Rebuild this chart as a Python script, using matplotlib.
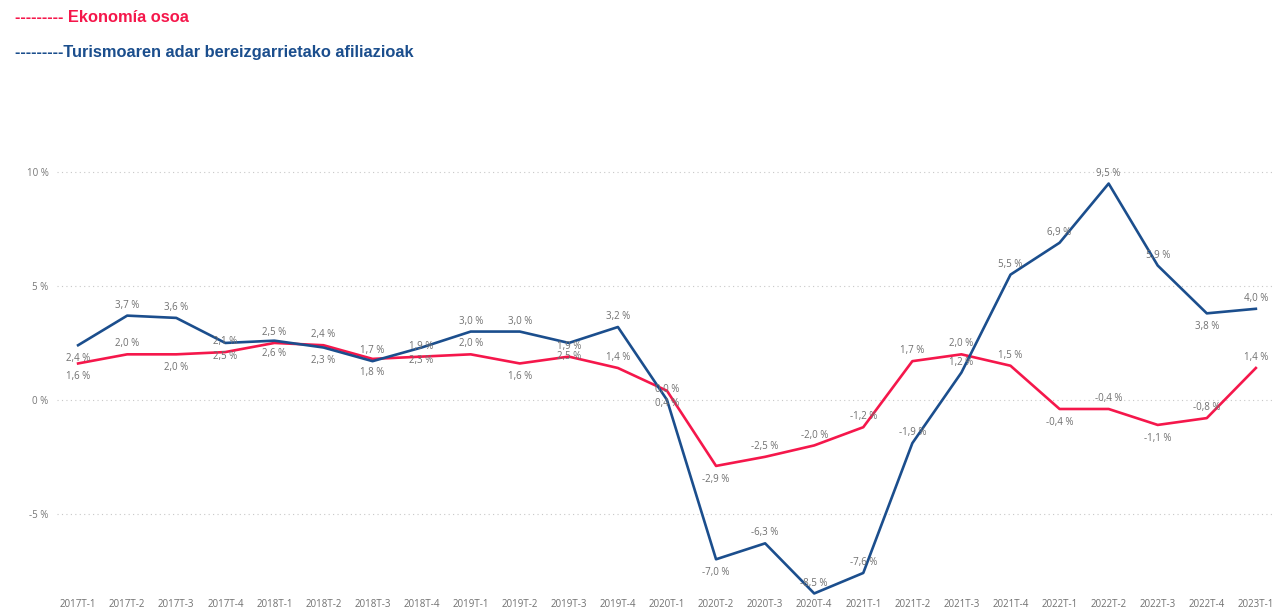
import matplotlib.pyplot as plt
import matplotlib.ticker as ticker

# quarters 2017T-1 .. 2023T-1
quarters = ['2017T-1', '2017T-2', '2017T-3', '2017T-4',
            '2018T-1', '2018T-2', '2018T-3', '2018T-4',
            '2019T-1', '2019T-2', '2019T-3', '2019T-4',
            '2020T-1', '2020T-2', '2020T-3', '2020T-4',
            '2021T-1', '2021T-2', '2021T-3', '2021T-4',
            '2022T-1', '2022T-2', '2022T-3', '2022T-4',
            '2023T-1']

# Ekonomía osoa
economy = [1.6, 2.0, 2.0, 2.1,
           2.5, 2.4, 1.8, 1.9,
           2.0, 1.6, 1.9, 1.4,
           0.4, -2.9, -2.5, -2.0,
           -1.2, 1.7, 2.0, 1.5,
           -0.4, -0.4, -1.1, -0.8,
           1.4]

# Turismoaren adar bereizgarrietako afiliazioak
tourism = [2.4, 3.7, 3.6, 2.5,
           2.6, 2.3, 1.7, 2.3,
           3.0, 3.0, 2.5, 3.2,
           0.0, -7.0, -6.3, -8.5,
           -7.6, -1.9, 1.2, 5.5,
           6.9, 9.5, 5.9, 3.8,
           4.0]

# label placement, 1 = above the point, -1 = below
economy_pos = [-1, 1, -1, 1, 1, 1, -1, 1, 1, -1, 1, 1, -1,
               -1, 1, 1, 1, 1, 1, 1, -1, 1, -1, 1, 1]
tourism_pos = [-1, 1, 1, -1, -1, -1, 1, -1, 1, 1, -1, 1, 1,
               -1, 1, 1, 1, 1, 1, 1, 1, 1, 1, -1, 1]

red = '#F5174B'
blue = '#1B4E8D'
label_color = '#707070'


def pct(v):
    return '{:.1f} %'.format(v).replace('.', ',')


fig = plt.figure(figsize=(12.81, 6.10), dpi=100)
ax = fig.add_axes([57 / 1281, 12 / 610, (1275 - 57) / 1281, (598 - 138) / 610])

x = list(range(len(quarters)))
ax.plot(x, economy, color=red, lw=1.9, zorder=3)
ax.plot(x, tourism, color=blue, lw=1.9, zorder=3)

for vals, pos in ((economy, economy_pos), (tourism, tourism_pos)):
    for i, (v, p) in enumerate(zip(vals, pos)):
        off = 7.5 if p > 0 else -9.5
        ax.annotate(pct(v), (i, v), xytext=(0, off), textcoords='offset points',
                    ha='center', va='center', fontsize=7, color=label_color,
                    family='Open Sans', zorder=4)

ax.set_xlim(-0.43, 24.39)
ax.set_ylim(-8.7, 11.5)
ax.set_xticks(x)
ax.set_xticklabels(quarters, fontsize=7, color='#707070', family='Open Sans')
ax.yaxis.set_major_locator(ticker.FixedLocator([-5, 0, 5, 10]))
ax.yaxis.set_major_formatter(ticker.FuncFormatter(lambda v, p: '{:d} %'.format(int(v))))
for t in ax.get_yticklabels():
    t.set_fontsize(7)
    t.set_color('#777777')
    t.set_family('Open Sans')
ax.tick_params(axis='both', length=0)
ax.tick_params(axis='x', pad=1)
ax.tick_params(axis='y', pad=6)
ax.grid(axis='y', linestyle=(0, (1, 3)), color='#c8c8c8', lw=0.8)
ax.set_axisbelow(True)
for s in ax.spines.values():
    s.set_visible(False)

fig.text(15 / 1281, 1 - 17 / 610, '--------- Ekonomía osoa', color=red,
         fontsize=11.8, fontweight='bold', family='Liberation Sans', va='center')
fig.text(15 / 1281, 1 - 52 / 610, '---------Turismoaren adar bereizgarrietako afiliazioak',
         color=blue, fontsize=11.8, fontweight='bold', family='Liberation Sans', va='center')

fig.savefig('out.png', dpi=100)
